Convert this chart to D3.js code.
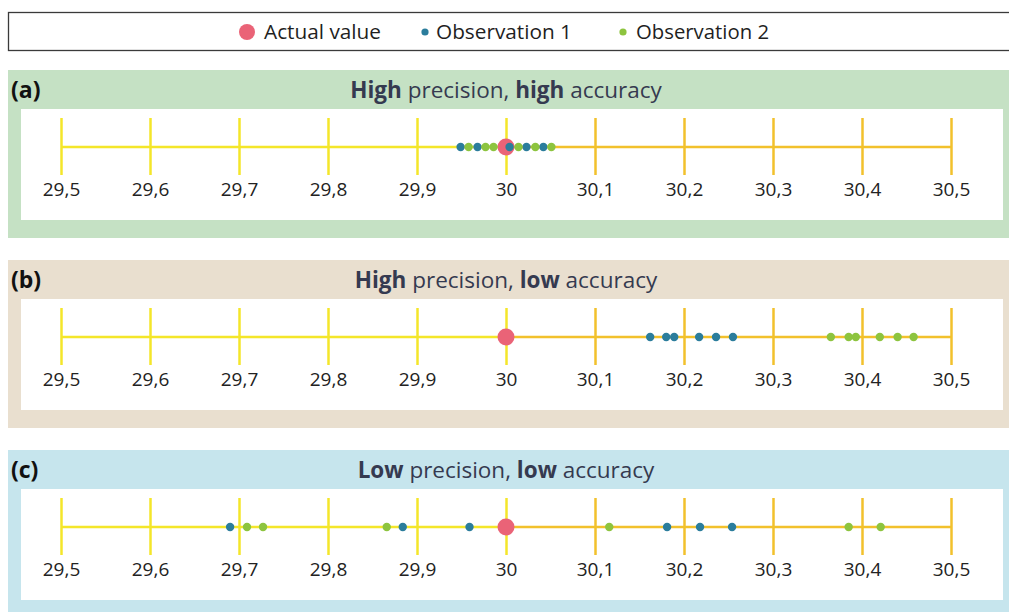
<!DOCTYPE html>
<html>
<head>
<meta charset="utf-8">
<script src="https://cdn.jsdelivr.net/npm/d3@7"></script>
<style>
  html, body { margin: 0; padding: 0; background: #fff; }
  svg { display: block; }
</style>
</head>
<body>
<svg id="chart" width="1009" height="612"></svg>
<script>
// Scale ticks and their labels
const tickValues = [29.5, 29.6, 29.7, 29.8, 29.9, 30.0, 30.1, 30.2, 30.3, 30.4, 30.5];
const tickLabels = ["29,5", "29,6", "29,7", "29,8", "29,9", "30", "30,1", "30,2", "30,3", "30,4", "30,5"];

// Reference value
const actualValue = 30.0;

// Panel labels and titles (bold word, plain text, bold word, plain text)
const panelIds = ["(a)", "(b)", "(c)"];
const panelTitles = [
  ["High", " precision, ", "high", " accuracy"],
  ["High", " precision, ", "low", " accuracy"],
  ["Low", " precision, ", "low", " accuracy"]
];
const panelColors = ["#c5e1c4", "#e9dfcf", "#c6e5ed"];

// Measurements, per panel
const obs1 = [
  [29.949, 29.968, 30.004, 30.023, 30.042],
  [30.162, 30.180, 30.189, 30.217, 30.236, 30.255],
  [29.690, 29.884, 29.959, 30.181, 30.218, 30.254]
];
const obs2 = [
  [29.958, 29.977, 29.986, 30.014, 30.033, 30.051],
  [30.365, 30.385, 30.393, 30.420, 30.440, 30.458],
  [29.709, 29.727, 29.866, 30.116, 30.385, 30.421]
];

const C_RED = "#ea6377", C_BLUE = "#2b7d9c", C_GREEN = "#8dc43f";
const C_YELLOW = "#f4e62a", C_ORANGE = "#f2c12c";
const C_TEXT = "#353a50";
const FONT = "'Open Sans', 'DejaVu Sans', sans-serif";

const svg = d3.select("#chart");
const x = d3.scaleLinear().domain([29.5, 30.5]).range([61, 951]);

// Legend
const legend = svg.append("g");
legend.append("rect")
  .attr("x", 8.5).attr("y", 12.5).attr("width", 1010).attr("height", 38)
  .attr("fill", "#fff").attr("stroke", "#3a3a3a").attr("stroke-width", 1.3);
const legendItems = [
  { label: "Actual value", color: C_RED, r: 8, cx: 247, tx: 264, tw: 117 },
  { label: "Observation 1", color: C_BLUE, r: 3.6, cx: 425, tx: 436, tw: 136 },
  { label: "Observation 2", color: C_GREEN, r: 3.6, cx: 623, tx: 636, tw: 133 }
];
legendItems.forEach(d => {
  legend.append("circle").attr("cx", d.cx).attr("cy", 32).attr("r", d.r).attr("fill", d.color);
  legend.append("text")
    .attr("x", d.tx).attr("y", 39)
    .attr("font-family", FONT).attr("font-size", 20)
    .attr("textLength", d.tw).attr("lengthAdjust", "spacingAndGlyphs")
    .attr("fill", "#1f1f1f")
    .text(d.label);
});

// Panels
const panelTop = [70, 260, 450];
panelIds.forEach((id, i) => {
  const top = panelTop[i];
  const g = svg.append("g").attr("transform", `translate(0,${top})`);

  g.append("rect").attr("x", 8).attr("y", 0).attr("width", 1001).attr("height", 168)
    .attr("fill", panelColors[i]);
  g.append("rect").attr("x", 21).attr("y", 39).attr("width", 982).attr("height", 111)
    .attr("fill", "#fff");

  g.append("text")
    .attr("x", 11).attr("y", 28)
    .attr("font-family", FONT).attr("font-size", 23).attr("font-weight", 700)
    .attr("fill", "#111")
    .text(id);

  const t = g.append("text")
    .attr("x", 506).attr("y", 28)
    .attr("text-anchor", "middle")
    .attr("font-family", FONT).attr("font-size", 22.5)
    .attr("fill", C_TEXT);
  panelTitles[i].forEach((part, k) => {
    t.append("tspan").attr("font-weight", k % 2 === 0 ? 700 : 400).text(part);
  });

  // Number line
  const axisY = 77;
  const axisG = g.append("g").attr("transform", `translate(0,${axisY})`);
  axisG.append("line")
    .attr("x1", x(29.5)).attr("x2", x(actualValue)).attr("y1", 0).attr("y2", 0)
    .attr("stroke", C_YELLOW).attr("stroke-width", 2.5);
  axisG.append("line")
    .attr("x1", x(actualValue)).attr("x2", x(30.5)).attr("y1", 0).attr("y2", 0)
    .attr("stroke", C_ORANGE).attr("stroke-width", 2.5);

  const axis = d3.axisBottom(x)
    .tickValues(tickValues)
    .tickFormat((d, k) => tickLabels[k])
    .tickSize(0);
  const ax = axisG.append("g").call(axis);
  ax.select(".domain").remove();
  ax.selectAll(".tick line")
    .attr("y1", -29).attr("y2", 28)
    .attr("stroke", d => d <= actualValue ? C_YELLOW : C_ORANGE)
    .attr("stroke-width", 2.5);
  ax.selectAll(".tick text")
    .attr("y", 43).attr("dy", "0.32em")
    .attr("font-family", FONT).attr("font-size", 19)
    .attr("fill", "#222");

  // Actual value
  axisG.append("circle")
    .attr("cx", x(actualValue)).attr("cy", 0).attr("r", 8.5).attr("fill", C_RED);

  // Observations
  axisG.selectAll(".o1").data(obs1[i]).join("circle")
    .attr("class", "o1")
    .attr("cx", d => x(d)).attr("cy", 0).attr("r", 4.2).attr("fill", C_BLUE);
  axisG.selectAll(".o2").data(obs2[i]).join("circle")
    .attr("class", "o2")
    .attr("cx", d => x(d)).attr("cy", 0).attr("r", 4.2).attr("fill", C_GREEN);
});
</script>
</body>
</html>
